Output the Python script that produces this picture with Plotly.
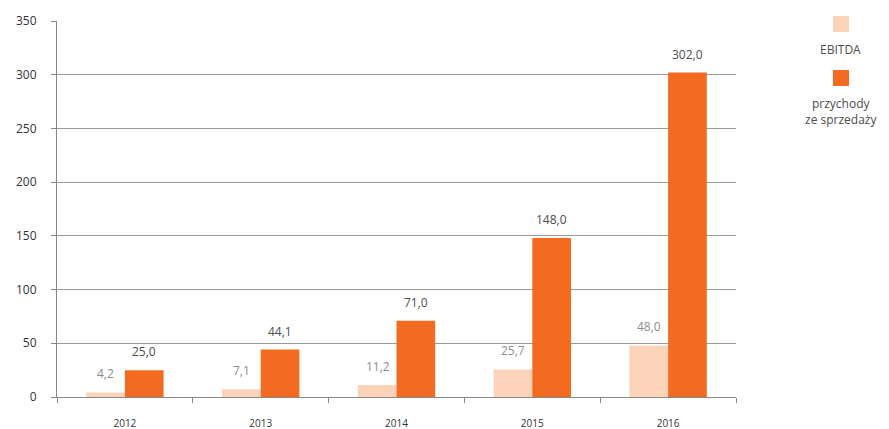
import plotly.graph_objects as go

years = ["2012", "2013", "2014", "2015", "2016"]
ebitda = [4.2, 7.1, 11.2, 25.7, 48.0]
revenue = [25.0, 44.1, 71.0, 148.0, 302.0]
series_names = ["EBITDA", "przychody<br>ze sprzedaży"]
y_ticks = [0, 50, 100, 150, 200, 250, 300, 350]

c_ebitda = "#FBD3B8"
c_rev = "#F26B21"
font_family = "Open Sans, Lato, sans-serif"

def fmt(v):
    return f"{v:.1f}".replace(".", ",")

fig = go.Figure()
fig.add_trace(go.Bar(x=years, y=ebitda, name="EBITDA", marker_color=c_ebitda,
                     marker_line_width=0, showlegend=False))
fig.add_trace(go.Bar(x=years, y=revenue, name="przychody ze sprzedaży", marker_color=c_rev,
                     marker_line_width=0, showlegend=False))

annotations = []
for i, yr in enumerate(years):
    annotations.append(dict(x=i, y=ebitda[i], xref="x", yref="y", text=fmt(ebitda[i]),
                            showarrow=False, xshift=-19, yshift=8, yanchor="bottom",
                            font=dict(family=font_family, size=12, color="#8c8c8c")))
    annotations.append(dict(x=i, y=revenue[i], xref="x", yref="y", text=fmt(revenue[i]),
                            showarrow=False, xshift=19, yshift=8, yanchor="bottom",
                            font=dict(family=font_family, size=12, color="#4d4d4d")))

# custom legend (symbol above text)
shapes = []
leg_colors = [c_ebitda, c_rev]
leg_sym_y = [16, 70]
leg_text_y = [47, 101]
W, H = 889, 429
ml, mr, mt, mb = 57, 153, 21, 32
pw, ph = W - ml - mr, H - mt - mb
def px_to_paper_x(px):
    return (px - ml) / pw
def py_to_paper_y(py):
    return 1 - (py - mt) / ph
for col, sy, ty, nm in zip(leg_colors, leg_sym_y, leg_text_y, series_names):
    shapes.append(dict(type="rect", xref="paper", yref="paper",
                       x0=px_to_paper_x(833), x1=px_to_paper_x(849),
                       y0=py_to_paper_y(sy + 16), y1=py_to_paper_y(sy),
                       fillcolor=col, line_width=0))
    annotations.append(dict(x=px_to_paper_x(841), y=py_to_paper_y(ty - 8), xref="paper", yref="paper",
                            text=nm, showarrow=False, xanchor="center", yanchor="top",
                            align="center",
                            font=dict(family=font_family, size=12, color="#4d4d4d")))

fig.update_layout(
    width=W, height=H,
    margin=dict(l=ml, r=mr, t=mt, b=mb),
    paper_bgcolor="white", plot_bgcolor="white",
    barmode="group", bargap=0.43, bargroupgap=0,
    font=dict(family=font_family, color="#4d4d4d"),
    shapes=shapes, annotations=annotations,
    xaxis=dict(type="category", range=[-0.5, len(years) - 0.5], showgrid=False,
               ticks="outside", tickson="boundaries", ticklen=5,
               tickcolor="#888", showline=True, linecolor="#888", linewidth=1,
               tickfont=dict(size=10, color="#333"), ticklabelstandoff=17,
               tickangle=0, automargin=False),
    yaxis=dict(range=[0, 350], tickvals=y_ticks, showgrid=True, gridcolor="#999",
               gridwidth=1, zeroline=False, showline=True, linecolor="#888", linewidth=1,
               ticks="outside", ticklen=5, tickcolor="#888",
               tickfont=dict(size=12, color="#333"), ticklabelstandoff=12, automargin=False),
)

fig.write_html("out.html")
